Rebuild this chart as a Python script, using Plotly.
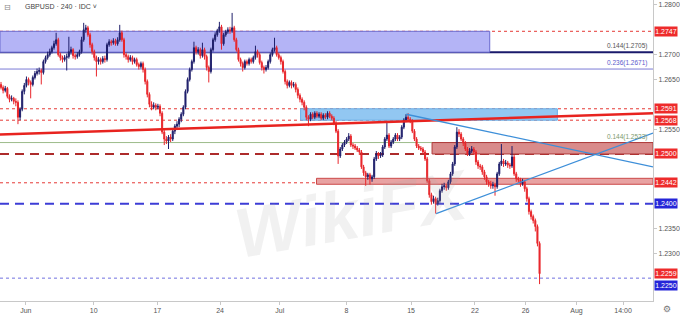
import plotly.graph_objects as go

# ---- data (GBPUSD, 4h bars) ----
first_open = 1.2640
closes = [
1.2634,1.2628,1.2632,1.2616,1.2610,1.2612,1.2606,1.2604,1.2574,1.2590,
1.2626,1.2638,1.2650,1.2644,1.2640,1.2654,1.2662,1.2666,1.2668,1.2664,
1.2686,1.2694,1.2700,1.2706,1.2714,1.2722,1.2730,1.2700,1.2694,1.2690,
1.2694,1.2696,1.2706,1.2710,1.2698,1.2696,1.2700,1.2706,1.2730,1.2750,
1.2754,1.2740,1.2720,1.2706,1.2694,1.2686,1.2690,1.2686,1.2692,1.2690,
1.2720,1.2726,1.2724,1.2728,1.2722,1.2730,1.2744,1.2730,1.2700,1.2696,
1.2690,1.2694,1.2686,1.2690,1.2680,1.2676,1.2682,1.2670,1.2646,1.2620,
1.2600,1.2594,1.2598,1.2594,1.2596,1.2582,1.2544,1.2530,1.2526,1.2534,
1.2530,1.2546,1.2556,1.2560,1.2570,1.2580,1.2594,1.2626,1.2650,1.2670,
1.2686,1.2714,1.2706,1.2710,1.2698,1.2710,1.2696,1.2674,1.2666,1.2710,
1.2730,1.2740,1.2748,1.2756,1.2722,1.2740,1.2746,1.2750,1.2748,1.2754,
1.2730,1.2710,1.2690,1.2682,1.2674,1.2686,1.2682,1.2690,1.2686,1.2694,
1.2706,1.2700,1.2684,1.2674,1.2670,1.2674,1.2686,1.2700,1.2710,1.2714,
1.2700,1.2694,1.2686,1.2666,1.2646,1.2638,1.2644,1.2638,1.2640,1.2630,
1.2618,1.2610,1.2604,1.2594,1.2574,1.2570,1.2580,1.2574,1.2582,1.2576,
1.2580,1.2572,1.2578,1.2574,1.2582,1.2576,1.2572,1.2562,1.2546,1.2496,
1.2510,1.2518,1.2524,1.2530,1.2536,1.2518,1.2516,1.2512,1.2508,1.2504,
1.2474,1.2462,1.2454,1.2458,1.2450,1.2454,1.2490,1.2500,1.2496,1.2498,
1.2514,1.2530,1.2538,1.2516,1.2524,1.2530,1.2538,1.2530,1.2534,1.2554,
1.2568,1.2574,1.2570,1.2566,1.2546,1.2530,1.2516,1.2512,1.2510,1.2504,
1.2490,1.2446,1.2418,1.2404,1.2410,1.2400,1.2406,1.2426,1.2434,1.2436,
1.2432,1.2444,1.2460,1.2480,1.2514,1.2544,1.2540,1.2530,1.2522,1.2510,
1.2500,1.2506,1.2510,1.2504,1.2484,1.2476,1.2474,1.2464,1.2454,1.2444,
1.2440,1.2436,1.2438,1.2434,1.2460,1.2480,1.2486,1.2480,1.2482,1.2478,
1.2476,1.2494,1.2460,1.2450,1.2448,1.2440,1.2444,1.2430,1.2410,1.2384,
1.2374,1.2366,1.2354,1.2320,1.2259]
highs = [
1.2645,1.2638,1.2637,1.2635,1.2620,1.2618,1.2615,1.2612,1.2608,1.2594,
1.2630,1.2643,1.2656,1.2654,1.2648,1.2658,1.2667,1.2672,1.2674,1.2672,
1.2690,1.2698,1.2706,1.2712,1.2718,1.2728,1.2744,1.2734,1.2704,1.2698,
1.2699,1.2702,1.2736,1.2716,1.2713,1.2702,1.2705,1.2710,1.2736,1.2764,
1.2760,1.2758,1.2744,1.2724,1.2710,1.2698,1.2695,1.2694,1.2697,1.2698,
1.2724,1.2731,1.2730,1.2733,1.2732,1.2735,1.2760,1.2748,1.2734,1.2704,
1.2700,1.2699,1.2698,1.2694,1.2694,1.2684,1.2686,1.2686,1.2674,1.2650,
1.2624,1.2606,1.2604,1.2602,1.2601,1.2600,1.2586,1.2548,1.2536,1.2538,
1.2540,1.2550,1.2560,1.2566,1.2574,1.2584,1.2598,1.2630,1.2654,1.2674,
1.2690,1.2726,1.2718,1.2715,1.2714,1.2724,1.2714,1.2700,1.2678,1.2714,
1.2734,1.2745,1.2752,1.2766,1.2760,1.2744,1.2750,1.2755,1.2756,1.2784,
1.2758,1.2734,1.2714,1.2694,1.2686,1.2690,1.2690,1.2694,1.2694,1.2698,
1.2718,1.2710,1.2704,1.2688,1.2678,1.2679,1.2690,1.2704,1.2714,1.2734,
1.2718,1.2704,1.2698,1.2690,1.2670,1.2650,1.2648,1.2648,1.2645,1.2644,
1.2634,1.2622,1.2614,1.2608,1.2598,1.2578,1.2584,1.2584,1.2586,1.2586,
1.2584,1.2584,1.2582,1.2582,1.2586,1.2586,1.2580,1.2576,1.2566,1.2550,
1.2514,1.2522,1.2528,1.2534,1.2542,1.2540,1.2522,1.2520,1.2516,1.2512,
1.2508,1.2478,1.2466,1.2462,1.2462,1.2458,1.2494,1.2506,1.2504,1.2504,
1.2518,1.2534,1.2564,1.2542,1.2528,1.2534,1.2542,1.2542,1.2538,1.2558,
1.2572,1.2580,1.2582,1.2574,1.2570,1.2550,1.2534,1.2520,1.2516,1.2514,
1.2508,1.2494,1.2450,1.2422,1.2416,1.2414,1.2412,1.2430,1.2440,1.2442,
1.2440,1.2448,1.2464,1.2484,1.2518,1.2554,1.2550,1.2544,1.2534,1.2526,
1.2514,1.2512,1.2516,1.2514,1.2508,1.2488,1.2480,1.2478,1.2468,1.2458,
1.2448,1.2446,1.2444,1.2442,1.2464,1.2484,1.2520,1.2490,1.2488,1.2486,
1.2482,1.2516,1.2498,1.2464,1.2454,1.2452,1.2450,1.2448,1.2434,1.2414,
1.2388,1.2378,1.2370,1.2358,1.2324]
lows = [
1.2630,1.2622,1.2624,1.2612,1.2604,1.2606,1.2600,1.2596,1.2560,1.2568,
1.2586,1.2620,1.2634,1.2638,1.2612,1.2636,1.2650,1.2658,1.2660,1.2640,
1.2660,1.2682,1.2690,1.2696,1.2702,1.2710,1.2718,1.2696,1.2688,1.2684,
1.2686,1.2668,1.2692,1.2700,1.2692,1.2690,1.2692,1.2696,1.2702,1.2726,
1.2744,1.2736,1.2714,1.2700,1.2688,1.2656,1.2680,1.2680,1.2682,1.2684,
1.2686,1.2716,1.2718,1.2720,1.2718,1.2718,1.2726,1.2726,1.2694,1.2690,
1.2684,1.2686,1.2680,1.2682,1.2676,1.2670,1.2672,1.2664,1.2640,1.2614,
1.2594,1.2588,1.2590,1.2588,1.2590,1.2576,1.2540,1.2518,1.2520,1.2510,
1.2524,1.2526,1.2540,1.2550,1.2554,1.2564,1.2576,1.2590,1.2622,1.2646,
1.2666,1.2682,1.2700,1.2700,1.2692,1.2694,1.2690,1.2668,1.2644,1.2662,
1.2706,1.2726,1.2736,1.2744,1.2710,1.2718,1.2736,1.2742,1.2742,1.2744,
1.2726,1.2706,1.2686,1.2676,1.2666,1.2670,1.2678,1.2678,1.2682,1.2682,
1.2690,1.2694,1.2680,1.2668,1.2662,1.2666,1.2670,1.2682,1.2696,1.2706,
1.2696,1.2690,1.2680,1.2662,1.2640,1.2632,1.2634,1.2632,1.2634,1.2624,
1.2612,1.2604,1.2598,1.2588,1.2568,1.2556,1.2566,1.2570,1.2570,1.2572,
1.2572,1.2568,1.2568,1.2570,1.2570,1.2572,1.2568,1.2558,1.2542,1.2480,
1.2492,1.2506,1.2514,1.2520,1.2526,1.2514,1.2510,1.2508,1.2504,1.2498,
1.2470,1.2456,1.2436,1.2448,1.2438,1.2444,1.2450,1.2486,1.2490,1.2492,
1.2494,1.2510,1.2526,1.2512,1.2512,1.2520,1.2526,1.2526,1.2526,1.2530,
1.2550,1.2564,1.2566,1.2562,1.2542,1.2526,1.2512,1.2508,1.2506,1.2500,
1.2486,1.2442,1.2412,1.2398,1.2400,1.2380,1.2396,1.2402,1.2422,1.2428,
1.2426,1.2428,1.2440,1.2456,1.2476,1.2510,1.2534,1.2526,1.2516,1.2506,
1.2496,1.2496,1.2502,1.2498,1.2478,1.2470,1.2468,1.2458,1.2448,1.2438,
1.2434,1.2430,1.2430,1.2416,1.2430,1.2456,1.2476,1.2474,1.2476,1.2472,
1.2470,1.2472,1.2456,1.2444,1.2442,1.2434,1.2436,1.2424,1.2404,1.2378,
1.2368,1.2360,1.2344,1.2314,1.2238]
opens = [first_open] + closes[:-1]

tick_pos = [11.7, 43.7, 73.7, 103.3, 131.5, 162.9, 193.4, 223.5, 247.4, 271.4, 293.4]
tick_text = ["Jun", "10", "17", "24", "Jul", "8", "15", "22", "26", "Aug", "14:00"]
y_ticks = [1.2800, 1.2700, 1.2650, 1.2550, 1.2350, 1.2300]

# levels
lvl_red_dot = [1.2747, 1.2591, 1.2568, 1.2442]
lvl_fib144 = 1.2705
lvl_fib236 = 1.2671
lvl_green = 1.2523
lvl_red_dash = 1.2500
lvl_blue_dash = 1.2400
lvl_blue_dot = 1.2250
last_price = 1.2259

# zones: (x0 bar, x1 bar, y0, y1)
zone_purple = (-0.47, 230.5, 1.2705, 1.2747)
zone_lightblue = (141.3, 262.4, 1.2568, 1.2591)
zone_red_a = (203.3, 307.5, 1.2500, 1.2523)
zone_red_b = (148.8, 307.5, 1.2439, 1.2451)
# trendlines: (x0, y0, x1, y1)
tl_red = (-0.47, 1.2539, 307.5, 1.2582)
tl_blue_down = (191.1, 1.2580, 307.5, 1.2474)
tl_blue_up = (205.2, 1.2380, 307.5, 1.2542)

XR = [-0.47, 307.5]
YR = [1.2204, 1.2810]

idx = list(range(len(closes)))

fig = go.Figure()
fig.add_trace(go.Candlestick(
    x=idx, open=opens, high=highs, low=lows, close=closes,
    increasing=dict(line=dict(color="#1f1f6b", width=1), fillcolor="#1f1f6b"),
    decreasing=dict(line=dict(color="#e8262b", width=1), fillcolor="#e8262b"),
    whiskerwidth=0, hoverinfo="skip", showlegend=False))

shapes = []
def rect(z, fill, line, lw=1, layer="below"):
    shapes.append(dict(type="rect", xref="x", yref="y", x0=z[0], x1=z[1], y0=z[2], y1=z[3],
                       fillcolor=fill, line=dict(color=line, width=lw), layer=layer))
def hline(y, color, width=1, dash="solid", layer="below"):
    shapes.append(dict(type="line", xref="paper", yref="y", x0=0, x1=1, y0=y, y1=y,
                       line=dict(color=color, width=width, dash=dash), layer=layer))
def tline(t, color, width):
    shapes.append(dict(type="line", xref="x", yref="y", x0=t[0], y0=t[1], x1=t[2], y1=t[3],
                       line=dict(color=color, width=width), layer="above"))

rect(zone_purple, "#b4b4f6", "#6a6acf")
rect(zone_lightblue, "#92c7f2", "#6aaee6")
rect(zone_red_a, "#d98b8b", "#b03a3a")
rect(zone_red_b, "#e8a2a2", "#cc4a4a")
hline(lvl_fib236, "#7b7bd6", 1)
hline(lvl_green, "#9dbb8a", 1)
for v in lvl_red_dot:
    hline(v, "#e53935", 1, "dot")
hline(lvl_fib144, "#1a1a6b", 2)
hline(lvl_red_dash, "#ad2b2b", 2, "9px,6px")
hline(lvl_blue_dash, "#3d3dd6", 2, "9px,6px")
hline(lvl_blue_dot, "#7070e0", 1, "dot")
tline(tl_red, "#e8231f", 2.5)
tline(tl_blue_down, "#3d8fd9", 1.3)
tline(tl_blue_up, "#3d8fd9", 1.3)

ann = []
def price_box(y, txt, bg):
    ann.append(dict(xref="paper", yref="y", x=1, y=y, xanchor="left", yanchor="middle",
                    xshift=1, text=txt, showarrow=False, bgcolor=bg, width=22, height=9,
                    borderpad=0, font=dict(family="Liberation Sans", size=7, color="white")))
for v in [1.2747, 1.2591, 1.2568, 1.2500, 1.2442]:
    price_box(v, f"{v:.4f}", "#ee2b2b")
price_box(1.2400, "1.2400", "#2525d8")
price_box(last_price, f"{last_price:.4f}", "#ee2b2b")
price_box(1.2236, f"{lvl_blue_dot:.4f}", "#2525d8")

def fib_txt(y, txt, color):
    ann.append(dict(xref="paper", yref="y", x=0.994, y=y, xanchor="right", yanchor="bottom",
                    yshift=0, text=txt, showarrow=False,
                    font=dict(family="Liberation Sans", size=6.5, color=color)))
fib_txt(lvl_fib144, "0.144(1.2705)", "#555555")
fib_txt(lvl_fib236, "0.236(1.2671)", "#5a5acc")
fib_txt(lvl_green, "0.144(1.2523)", "#7d9a6c")

ann.append(dict(xref="paper", yref="paper", x=0.0, y=1.0, xanchor="left", yanchor="top",
                xshift=2, yshift=-1, text="⊟", showarrow=False,
                font=dict(family="DejaVu Sans", size=8, color="#888")))
ann.append(dict(xref="paper", yref="paper", x=0.0, y=1.0, xanchor="left", yanchor="top",
                xshift=23, yshift=-1, text="GBPUSD · 240 · IDC ˅", showarrow=False,
                font=dict(family="Liberation Sans", size=7, color="#444")))
ann.append(dict(xref="paper", yref="paper", x=0.54, y=0.29, xanchor="center", yanchor="middle",
                text="<b><i>WikiFX</i></b>", showarrow=False, textangle=-10,
                font=dict(family="Liberation Sans", size=70, color="rgba(170,170,170,0.16)")))
ann.append(dict(xref="paper", yref="paper", x=1, y=0, xanchor="left", yanchor="top",
                xshift=8, yshift=-1, text="⚙", showarrow=False,
                font=dict(family="DejaVu Sans", size=9, color="#777")))

fig.update_layout(
    width=680, height=315, margin=dict(l=0, r=24, t=0, b=12),
    paper_bgcolor="white", plot_bgcolor="white",
    shapes=shapes, annotations=ann, showlegend=False,
    xaxis=dict(range=XR, rangeslider=dict(visible=False), showgrid=False, zeroline=False,
               showline=True, linecolor="#c8c8c8", linewidth=1,
               tickmode="array", tickvals=tick_pos, ticktext=tick_text,
               ticks="outside", ticklen=3, tickcolor="#c8c8c8",
               tickfont=dict(family="Liberation Sans", size=7, color="#555")),
    yaxis=dict(range=YR, side="right", showgrid=False, zeroline=False,
               showline=True, linecolor="#c8c8c8", linewidth=1,
               tickmode="array", tickvals=y_ticks, ticktext=[f"{v:.4f}" for v in y_ticks],
               ticks="outside", ticklen=3, tickcolor="#c8c8c8",
               tickfont=dict(family="Liberation Sans", size=7, color="#555")),
)
fig.write_html("out.html")
